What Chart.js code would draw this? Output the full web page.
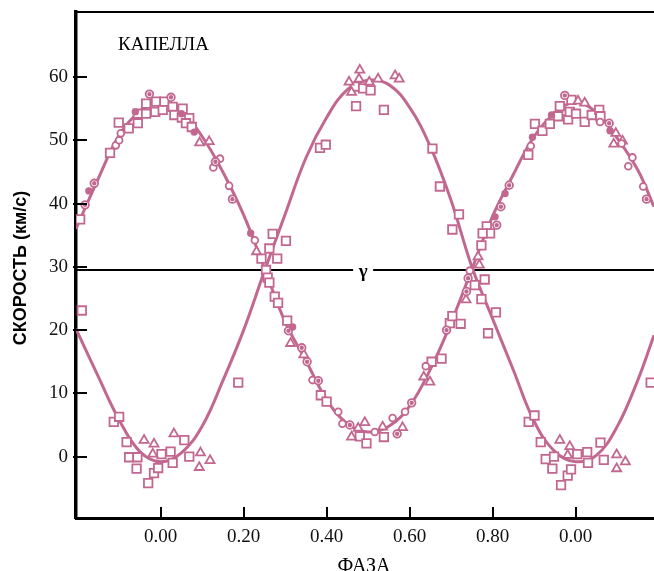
<!DOCTYPE html>
<html>
<head>
<meta charset="utf-8">
<script src="https://cdn.jsdelivr.net/npm/chart.js@4.4.0/dist/chart.umd.min.js"></script>
<style>
  html, body { margin: 0; padding: 0; background: #fff; }
  #wrap { width: 654px; height: 571px; position: relative; overflow: hidden; }
</style>
</head>
<body>
<div id="wrap"><canvas id="chart" width="654" height="571"></canvas></div>
<script>
// Axis ranges and ticks
const X_MIN = -0.204, X_MAX = 1.189;
const Y_MIN = -9.7, Y_MAX = 70.28;
const X_TICKS = [0, 0.2, 0.4, 0.6, 0.8, 1.0];
const X_TICK_LABELS = ['0.00', '0.20', '0.40', '0.60', '0.80', '0.00'];
const Y_TICKS = [0, 10, 20, 30, 40, 50, 60];
const GAMMA = 29.5;

// Fitted curves (phase, velocity)
const CURVE_PHASE = [-0.204, -0.15, -0.10, -0.05, 0.00, 0.05, 0.10, 0.15, 0.20, 0.25, 0.30, 0.35, 0.40, 0.45, 0.50,
    0.55, 0.60, 0.65, 0.70, 0.75, 0.80, 0.85, 0.90, 0.95, 1.00, 1.05, 1.10, 1.15, 1.189];
const CURVE_A = [36.0, 44.0, 50.8, 54.6, 56.2, 54.6, 50.6, 45.0, 38.2, 29.8, 21.3, 15.2, 9.0, 5.2, 3.9,
    4.8, 8.0, 13.8, 21.2, 29.6, 38.0, 44.6, 50.6, 54.3, 56.0, 54.4, 50.4, 45.3, 39.5];
const CURVE_B = [20.2, 12.6, 5.8, 0.8, -0.8, 0.6, 4.8, 12.0, 20.0, 29.3, 38.3, 47.2, 53.6, 58.0, 59.5,
    58.8, 55.2, 49.0, 40.5, 30.0, 21.8, 13.7, 5.6, 0.8, -0.8, 0.2, 4.7, 12.1, 19.2];

// Observations by marker type: [phase, velocity]
const SQUARES = [
    [-0.194, 37.5], [-0.122, 48.0], [-0.101, 52.8], [-0.077, 51.9], [-0.055, 52.7], [-0.055, 54.2], [-0.035, 54.2],
    [-0.035, 55.8], [-0.013, 54.5], [-0.011, 56.1], [0.005, 54.8], [0.009, 56.1], [0.029, 55.3], [0.033, 54.0],
    [0.053, 55.0], [0.051, 53.6], [0.069, 53.5], [0.061, 52.7], [0.075, 52.1],
    [0.270, 35.2], [0.302, 34.1], [0.262, 32.9], [0.243, 31.3], [0.281, 31.3], [0.254, 29.5], [0.258, 28.3],
    [0.262, 27.5], [0.275, 25.3], [0.283, 24.3], [0.305, 21.5],
    [0.386, 9.7], [0.400, 8.7], [0.480, 3.2], [0.496, 2.1], [0.538, 3.1], [0.653, 15.0], [0.677, 15.5],
    [0.468, 58.5], [0.488, 58.2], [0.506, 57.9], [0.471, 55.4], [0.538, 54.8], [0.384, 48.8], [0.398, 49.3],
    [0.655, 48.7], [0.673, 42.7], [0.719, 38.3], [0.703, 35.9],
    [0.786, 36.4], [0.794, 35.3], [0.776, 35.3], [0.773, 33.4], [0.781, 28.0], [0.757, 27.1], [0.773, 24.9],
    [0.808, 22.8], [0.697, 21.1], [0.703, 22.2], [0.723, 21.0], [0.789, 19.5],
    [0.887, 5.5], [0.901, 6.5], [0.916, 2.3], [0.928, -0.4], [0.948, 0.0], [0.944, -1.9], [0.965, -4.5],
    [0.981, -3.0], [0.989, -2.0], [1.004, 0.4], [1.028, 0.7], [1.030, -1.0], [1.060, 2.2], [1.068, -0.5], [1.181, 11.7],
    [0.886, 47.7], [0.902, 52.6], [0.920, 51.5], [0.938, 52.6], [0.958, 53.8], [0.962, 55.4], [0.982, 53.3],
    [0.986, 54.5], [0.990, 56.4], [1.001, 54.2], [1.022, 52.9], [1.039, 54.0], [1.057, 54.8], [1.060, 53.8],
    [-0.190, 23.1], [-0.113, 5.5], [-0.100, 6.3], [-0.082, 2.3], [-0.076, -0.1], [-0.056, -0.1], [-0.058, -1.9],
    [-0.030, -4.2], [-0.016, -2.6], [-0.006, -1.8], [0.002, 0.4], [0.024, 0.8], [0.029, -1.0], [0.057, 2.6],
    [0.069, 0.0], [0.187, 11.7]
];
const TRIANGLES = [
    [0.094, 49.6], [0.117, 49.8], [0.231, 32.4], [0.313, 17.9], [0.345, 16.1],
    [0.460, 3.1], [0.476, 4.5], [0.492, 5.4], [0.535, 4.7], [0.583, 4.6], [0.634, 12.6], [0.649, 11.8],
    [0.480, 61.1], [0.454, 59.2], [0.478, 59.7], [0.503, 59.2], [0.524, 59.7], [0.565, 60.2], [0.575, 59.7], [0.460, 57.6],
    [0.765, 31.6], [0.768, 30.3], [0.736, 24.8],
    [0.962, 2.6], [0.986, 1.6], [0.981, 0.2], [1.099, 0.3], [1.099, -1.9], [1.120, -0.8],
    [1.006, 56.2], [1.022, 55.9], [1.097, 51.1], [1.113, 49.9], [1.092, 49.4],
    [-0.040, 2.6], [-0.016, 2.0], [-0.019, 0.4], [0.032, 3.6], [0.096, 0.6], [0.093, -1.7], [0.119, -0.6]
];
const CIRCLES = [
    [-0.108, 49.2], [-0.100, 50.0], [-0.096, 51.1], [0.143, 47.1], [0.127, 45.7], [0.165, 42.8], [0.227, 34.2],
    [0.366, 12.1], [0.428, 7.1], [0.438, 5.2], [0.516, 3.9], [0.559, 6.1], [0.589, 7.1], [0.639, 14.3], [0.745, 29.4],
    [0.892, 49.1], [1.059, 52.9], [1.111, 49.5], [1.137, 47.3], [1.127, 45.9], [1.163, 42.7]
];
const DOT_CIRCLES = [
    [-0.182, 39.8], [-0.160, 43.2], [-0.027, 57.3], [0.025, 56.8], [0.132, 46.6], [0.173, 40.7], [0.308, 19.9],
    [0.340, 17.2], [0.353, 15.0], [0.380, 12.0], [0.456, 5.0], [0.570, 3.6], [0.605, 8.5], [0.689, 20.0],
    [0.737, 26.1], [0.741, 28.2], [0.810, 36.6], [0.820, 39.5], [0.840, 42.9], [0.974, 57.1], [1.081, 52.7], [1.171, 40.7]
];
const FILLED = [
    [-0.173, 42.0], [-0.061, 54.5], [0.050, 54.2], [0.081, 51.3], [0.217, 35.3], [0.318, 20.5],
    [0.806, 37.9], [0.830, 41.6], [0.896, 50.5], [0.942, 54.0], [1.083, 51.5]
];

const PINK = 'rgb(194, 104, 144)';
const SERIF = "'Liberation Serif', 'Times New Roman', serif";
const SANS = "'Liberation Sans', Arial, sans-serif";

const pts = arr => arr.map(p => ({ x: p[0], y: p[1] }));
const curve = vals => CURVE_PHASE.map((x, i) => ({ x, y: vals[i] }));

function markers(data, style, radius, fill, order) {
    return {
        type: 'scatter', data: pts(data), order,
        pointStyle: style, pointRadius: radius, pointHoverRadius: radius,
        pointBackgroundColor: fill, pointBorderColor: PINK, pointBorderWidth: 1.8
    };
}

// Decorations: inward ticks, top frame, gamma label and texts
const decor = {
    id: 'decor',
    afterDatasetsDraw(chart) {
        const { ctx, chartArea: a, scales: { x, y } } = chart;
        ctx.save();
        ctx.strokeStyle = '#000';
        ctx.lineWidth = 2;
        ctx.beginPath();
        X_TICKS.forEach(v => {
            const px = Math.round(x.getPixelForValue(v));
            ctx.moveTo(px, a.bottom);
            ctx.lineTo(px, a.bottom - 11);
        });
        Y_TICKS.forEach(v => {
            const py = Math.round(y.getPixelForValue(v));
            ctx.moveTo(a.left - 3, py);
            ctx.lineTo(a.left + 11, py);
        });
        ctx.stroke();

        // top frame line
        ctx.lineWidth = 2;
        ctx.beginPath();
        ctx.moveTo(a.left, a.top);
        ctx.lineTo(a.right, a.top);
        ctx.stroke();

        // gamma label over the systemic velocity line
        const gx = x.getPixelForValue(0.488), gy = y.getPixelForValue(GAMMA);
        ctx.fillStyle = '#fff';
        ctx.fillRect(gx - 10, gy - 3, 20, 6);
        ctx.fillStyle = '#000';
        ctx.font = `bold 19px ${SERIF}`;
        ctx.textAlign = 'center';
        ctx.textBaseline = 'middle';
        ctx.fillText('γ', gx, gy + 2);

        // star name
        ctx.font = `19px ${SERIF}`;
        ctx.textAlign = 'left';
        ctx.textBaseline = 'alphabetic';
        ctx.fillText('КАПЕЛЛА', 118, 50);

        // x axis title
        ctx.font = `20px ${SERIF}`;
        ctx.textAlign = 'center';
        ctx.fillText('ФАЗА', 364, 572);

        // y axis title
        ctx.translate(26, 268);
        ctx.rotate(-Math.PI / 2);
        ctx.font = `bold 18px ${SANS}`;
        ctx.fillText('СКОРОСТЬ (км/с)', 0, 0);
        ctx.restore();
    }
};

new Chart(document.getElementById('chart'), {
    type: 'scatter',
    data: {
        datasets: [
            {
                type: 'line', data: [{ x: X_MIN, y: GAMMA }, { x: X_MAX, y: GAMMA }], order: 30,
                borderColor: '#000', borderWidth: 2, pointRadius: 0, fill: false
            },
            {
                type: 'line', data: curve(CURVE_A), order: 20, borderColor: PINK, borderWidth: 3,
                pointRadius: 0, tension: 0.4, fill: false
            },
            {
                type: 'line', data: curve(CURVE_B), order: 21, borderColor: PINK, borderWidth: 3,
                pointRadius: 0, tension: 0.4, fill: false
            },
            markers(SQUARES, 'rect', 6, '#fff', 6),
            markers(TRIANGLES, 'triangle', 5.2, '#fff', 5),
            markers(CIRCLES, 'circle', 3.4, '#fff', 4),
            markers(DOT_CIRCLES, 'circle', 3.8, '#fff', 3),
            markers(DOT_CIRCLES, 'circle', 1.3, PINK, 2),
            markers(FILLED, 'circle', 2.8, PINK, 1)
        ]
    },
    options: {
        responsive: false,
        animation: false,
        devicePixelRatio: 1,
        layout: { autoPadding: false, padding: { top: 12, right: 0, left: 0, bottom: 0 } },
        plugins: { legend: { display: false }, tooltip: { enabled: false } },
        scales: {
            x: {
                type: 'linear', min: X_MIN, max: X_MAX,
                afterBuildTicks: s => { s.ticks = X_TICKS.map(v => ({ value: v })); },
                afterFit: s => { s.height = 53; s.paddingLeft = 0; s.paddingRight = 0; },
                grid: { display: true, drawOnChartArea: false, drawTicks: false },
                border: { display: true, color: '#000', width: 3 },
                ticks: {
                    padding: 8, color: '#111', maxRotation: 0,
                    font: { family: SERIF, size: 19 },
                    callback: (v, i) => X_TICK_LABELS[i]
                }
            },
            y: {
                type: 'linear', min: Y_MIN, max: Y_MAX,
                afterBuildTicks: s => { s.ticks = Y_TICKS.map(v => ({ value: v })); },
                afterFit: s => { s.width = 76; s.paddingTop = 0; s.paddingBottom = 0; },
                grid: { display: true, drawOnChartArea: false, drawTicks: false },
                border: { display: true, color: '#000', width: 3.5 },
                ticks: {
                    padding: 8, color: '#111',
                    font: { family: SERIF, size: 19 },
                    callback: v => String(v)
                }
            }
        }
    },
    plugins: [decor]
});
</script>
</body>
</html>
